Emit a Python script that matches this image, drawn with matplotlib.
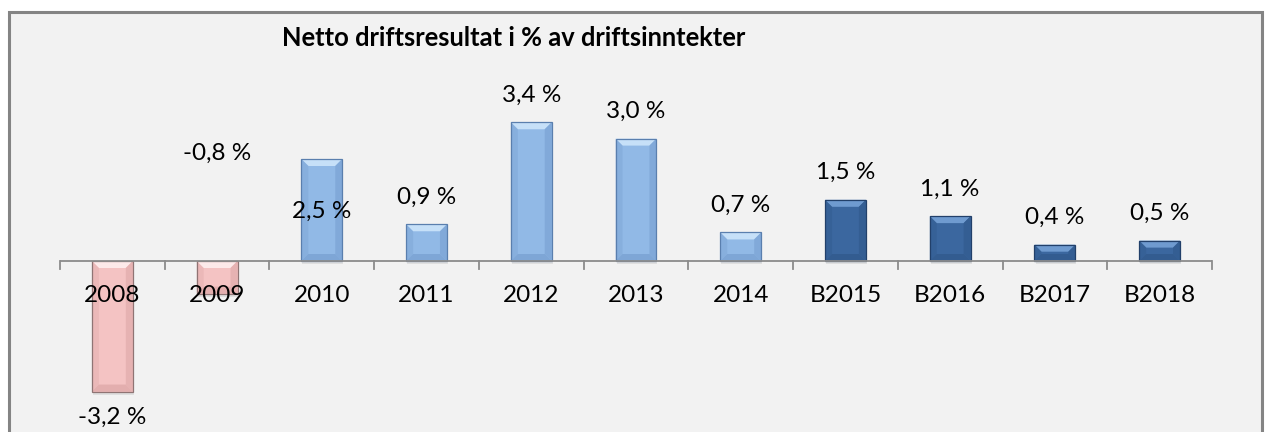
import matplotlib.pyplot as plt
from matplotlib.patches import Polygon, Rectangle

years = ["2008", "2009", "2010", "2011", "2012", "2013", "2014",
         "B2015", "B2016", "B2017", "B2018"]
values = [-3.2, -0.8, 2.5, 0.9, 3.4, 3.0, 0.7, 1.5, 1.1, 0.4, 0.5]
groups = ["neg", "neg", "pos", "pos", "pos", "pos", "pos",
          "bud", "bud", "bud", "bud"]

# face, highlight, shade, edge
palette = {
    "neg": ("#f4c3c3", "#fdeaea", "#e3aeae", "#8f7474"),
    "pos": ("#91b9e6", "#c6e0f8", "#7ea6d6", "#5a7fae"),
    "bud": ("#3b679f", "#6f9bd0", "#335c90", "#22406a"),
}

# Excel had two labels moved by hand
label_override = {1: 2.65, 2: 1.22}

W, H = 1265, 432
fig = plt.figure(figsize=(W / 100, H / 100), dpi=100)
fig.patch.set_facecolor("white")

# chart area frame
frame = Rectangle((9 / W, -0.05), (1253 / W), (H - 12) / H + 0.05,
                  transform=fig.transFigure, facecolor="#f2f2f2",
                  edgecolor="#848484", linewidth=2.2, zorder=-5)
fig.patches.append(frame)

ax_left, ax_right = 60 / W, 1212 / W
ax_top, ax_bot = 40, 420
ax = fig.add_axes([ax_left, 1 - ax_bot / H, ax_right - ax_left, (ax_bot - ax_top) / H])
ax.set_facecolor("none")

px_per_unit = 40.8
zero_px = 261
ax.set_ylim(-(ax_bot - zero_px) / px_per_unit, (zero_px - ax_top) / px_per_unit)
ax.set_xlim(-0.5, len(years) - 0.5)

bw = 0.39
dx = 7 / 104.7
dy = 7 / px_per_unit
fs = 17.5

for i, (v, g) in enumerate(zip(values, groups)):
    face, hi, shade, edge = palette[g]
    x0, x1 = i - bw / 2, i + bw / 2
    y0, y1 = min(0, v), max(0, v)
    # soft shadow
    ax.add_patch(Rectangle((x0 + 0.01, y0 - 0.08), bw, y1 - y0, facecolor="#000000",
                           alpha=0.08, edgecolor="none", zorder=1))
    ax.add_patch(Rectangle((x0, y0), bw, y1 - y0, facecolor=face,
                           edgecolor="none", zorder=2))
    ddy = min(dy, (y1 - y0) / 2)
    # top bevel
    ax.add_patch(Polygon([(x0, y1), (x1, y1), (x1 - dx, y1 - ddy), (x0 + dx, y1 - ddy)],
                         facecolor=hi, edgecolor="none", zorder=3))
    # bottom bevel
    ax.add_patch(Polygon([(x0, y0), (x1, y0), (x1 - dx, y0 + ddy), (x0 + dx, y0 + ddy)],
                         facecolor=shade, edgecolor="none", zorder=3))
    # side bevels
    ax.add_patch(Polygon([(x0, y0), (x0 + dx, y0 + ddy), (x0 + dx, y1 - ddy), (x0, y1)],
                         facecolor=shade, edgecolor="none", alpha=0.5, zorder=3))
    ax.add_patch(Polygon([(x1, y0), (x1 - dx, y0 + ddy), (x1 - dx, y1 - ddy), (x1, y1)],
                         facecolor=shade, edgecolor="none", alpha=0.8, zorder=3))
    ax.add_patch(Rectangle((x0, y0), bw, y1 - y0, facecolor="none",
                           edgecolor=edge, linewidth=0.9, zorder=4))

    label = f"{v:.1f} %".replace(".", ",")
    if i in label_override:
        ax.text(i, label_override[i], label, ha="center", va="center",
                fontsize=fs, family="Lato", zorder=6)
    elif v >= 0:
        ax.annotate(label, (i, v), xytext=(0, 19.5), textcoords="offset points",
                    ha="center", va="center", fontsize=fs, family="Lato", zorder=6)
    else:
        ax.annotate(label, (i, v), xytext=(0, -18.5), textcoords="offset points",
                    ha="center", va="center", fontsize=fs, family="Lato", zorder=6)

# category axis at zero
ax.axhline(0, color="#8c8c8c", linewidth=1.3, zorder=5)
for b in range(len(years) + 1):
    ax.plot([b - 0.5, b - 0.5], [0, -8 / px_per_unit], color="#8c8c8c",
            linewidth=1.3, zorder=5, clip_on=False)
for i, yr in enumerate(years):
    ax.annotate(yr, (i, 0), xytext=(0, -25), textcoords="offset points",
                ha="center", va="center", fontsize=fs, family="Lato", zorder=6)

ax.set_xticks([])
ax.set_yticks([])
for s in ax.spines.values():
    s.set_visible(False)

fig.text(514 / W, 1 - 37.5 / H, "Netto driftsresultat i % av driftsinntekter",
         ha="center", va="center", fontsize=18.4, fontweight="bold", family="Lato")

fig.savefig("out.png", dpi=100, facecolor="white")
